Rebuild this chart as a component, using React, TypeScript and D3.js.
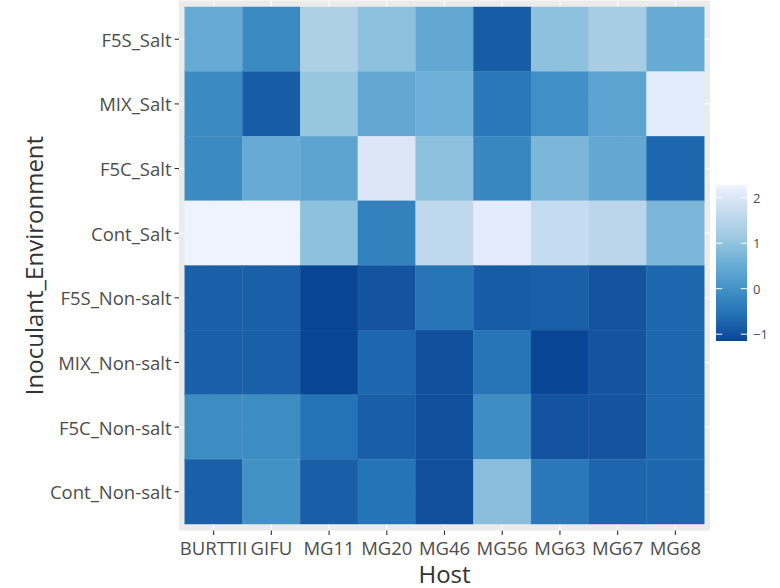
import React from "react";
import * as d3 from "d3";

// Hosts along the x axis
const hosts = ["BURTTII", "GIFU", "MG11", "MG20", "MG46", "MG56", "MG63", "MG67", "MG68"];

// Inoculant × environment combinations, listed top to bottom
const groups = [
  "F5S_Salt",
  "MIX_Salt",
  "F5C_Salt",
  "Cont_Salt",
  "F5S_Non-salt",
  "MIX_Non-salt",
  "F5C_Non-salt",
  "Cont_Non-salt",
];

// Scaled response per group (rows) and host (columns)
const f5sSalt = [0.5, -0.15, 1.35, 0.95, 0.45, -0.85, 0.95, 1.25, 0.5];
const mixSalt = [-0.15, -0.85, 1.05, 0.45, 0.6, -0.45, -0.05, 0.35, 2.1];
const f5cSalt = [-0.15, 0.5, 0.35, 2.0, 0.95, -0.2, 0.75, 0.45, -0.7];
const contSalt = [2.28, 2.28, 0.95, -0.3, 1.6, 2.12, 1.7, 1.55, 0.75];
const f5sNonSalt = [-0.8, -0.8, -1.15, -0.95, -0.5, -0.85, -0.8, -0.95, -0.7];
const mixNonSalt = [-0.8, -0.8, -1.15, -0.7, -1.02, -0.5, -1.15, -0.95, -0.7];
const f5cNonSalt = [-0.1, -0.1, -0.55, -0.82, -1.02, -0.08, -0.98, -0.95, -0.7];
const contNonSalt = [-0.8, 0.0, -0.82, -0.52, -1.02, 0.9, -0.45, -0.72, -0.7];

const values = [f5sSalt, mixSalt, f5cSalt, contSalt, f5sNonSalt, mixNonSalt, f5cNonSalt, contNonSalt];

// Legend tick values
const legendTicks = [-1, 0, 1, 2];

// ColorBrewer Blues (7 classes), dark to light
const blues = ["#084594", "#2171B5", "#4292C6", "#6BAED6", "#9ECAE1", "#C6DBEF", "#EFF3FF"];

const W = 780;
const H = 588;
const FONT = "'Open Sans', 'DejaVu Sans', sans-serif";

export default function App() {
  const cells = groups.flatMap((g, r) => hosts.map((h, c) => ({ g, h, v: values[r][c] })));
  const all = cells.map((d) => d.v);
  const vmin = d3.min(all) as number;
  const vmax = d3.max(all) as number;

  const color = d3
    .scaleLinear<string>()
    .domain(blues.map((_, i) => vmin + ((vmax - vmin) * i) / (blues.length - 1)))
    .range(blues)
    .interpolate(d3.interpolateLab)
    .clamp(true);

  // Panel geometry
  const panel = { left: 179, right: 710, top: 0.5, bottom: 530.5 };
  const x = d3
    .scaleBand<string>()
    .domain(hosts)
    .range([panel.left, panel.right])
    .paddingOuter(0.1)
    .paddingInner(0);
  const y = d3
    .scaleBand<string>()
    .domain(groups)
    .range([panel.top, panel.bottom])
    .paddingOuter(0.1)
    .paddingInner(0);

  // Colour bar geometry
  const bar = { x: 716, w: 31, top: 185, bottom: 341 };
  const ly = d3.scaleLinear().domain([vmin, vmax]).range([bar.bottom, bar.top]);
  const stops = d3.range(0, 101).map((i) => {
    const t = i / 100;
    return { off: t, col: color(vmax - (vmax - vmin) * t) };
  });

  const tickLen = 4.5;

  return (
    <div style={{ position: "absolute", left: 0, top: 0 }}>
      <svg width={W} height={H} style={{ display: "block", background: "#fff" }} fontFamily={FONT}>
        <defs>
          <linearGradient id="bluesBar" x1="0" y1="0" x2="0" y2="1">
            {stops.map((s, i) => (
              <stop key={i} offset={s.off} stopColor={s.col} />
            ))}
          </linearGradient>
        </defs>

        {/* panel background and grid */}
        <rect
          x={panel.left}
          y={panel.top}
          width={panel.right - panel.left}
          height={panel.bottom - panel.top}
          fill="#EBEBEB"
        />
        {hosts.map((h) => {
          const cx = (x(h) as number) + x.bandwidth() / 2;
          return (
            <line key={h} x1={cx} x2={cx} y1={panel.top} y2={panel.bottom} stroke="#fff" strokeWidth={1.1} />
          );
        })}
        {groups.map((g) => {
          const cy = (y(g) as number) + y.bandwidth() / 2;
          return (
            <line key={g} x1={panel.left} x2={panel.right} y1={cy} y2={cy} stroke="#fff" strokeWidth={1.1} />
          );
        })}

        {/* tiles */}
        {cells.map((d) => (
          <rect
            key={d.g + d.h}
            x={x(d.h)}
            y={y(d.g)}
            width={x.bandwidth()}
            height={y.bandwidth()}
            fill={color(d.v)}
            stroke={color(d.v)}
            strokeWidth={0.3}
          />
        ))}

        {/* y axis */}
        {groups.map((g) => {
          const cy = (y(g) as number) + y.bandwidth() / 2;
          return (
            <g key={g}>
              <line x1={panel.left - tickLen} x2={panel.left} y1={cy} y2={cy} stroke="#333" strokeWidth={1.1} />
              <text
                x={panel.left - tickLen - 3}
                y={cy}
                textAnchor="end"
                dominantBaseline="central"
                fontSize={18.5}
                fill="#4D4D4D"
              >
                {g}
              </text>
            </g>
          );
        })}

        {/* x axis */}
        {hosts.map((h) => {
          const cx = (x(h) as number) + x.bandwidth() / 2;
          return (
            <g key={h}>
              <line x1={cx} x2={cx} y1={panel.bottom} y2={panel.bottom + tickLen} stroke="#333" strokeWidth={1.1} />
              <text x={cx} y={panel.bottom + tickLen + 20} textAnchor="middle" fontSize={18.5} fill="#4D4D4D">
                {h}
              </text>
            </g>
          );
        })}

        {/* axis titles */}
        <text x={(panel.left + panel.right) / 2} y={583} textAnchor="middle" fontSize={24} fill="#333">
          Host
        </text>
        <text
          transform={`translate(33,${(panel.top + panel.bottom) / 2}) rotate(-90)`}
          textAnchor="middle"
          dominantBaseline="central"
          fontSize={24}
          fill="#333"
        >
          Inoculant_Environment
        </text>

        {/* colour bar legend */}
        <rect x={bar.x} y={bar.top} width={bar.w} height={bar.bottom - bar.top} fill="url(#bluesBar)" />
        {legendTicks.map((t) => {
          const ty = ly(t);
          return (
            <g key={t}>
              <line x1={bar.x} x2={bar.x + bar.w / 5} y1={ty} y2={ty} stroke="#fff" strokeWidth={1} />
              <line x1={bar.x + bar.w - bar.w / 5} x2={bar.x + bar.w} y1={ty} y2={ty} stroke="#fff" strokeWidth={1} />
              <text x={bar.x + bar.w + 6} y={ty} dominantBaseline="central" fontSize={13} fill="#4D4D4D">
                {t < 0 ? `\u2212${Math.abs(t)}` : t}
              </text>
            </g>
          );
        })}
      </svg>
    </div>
  );
}
